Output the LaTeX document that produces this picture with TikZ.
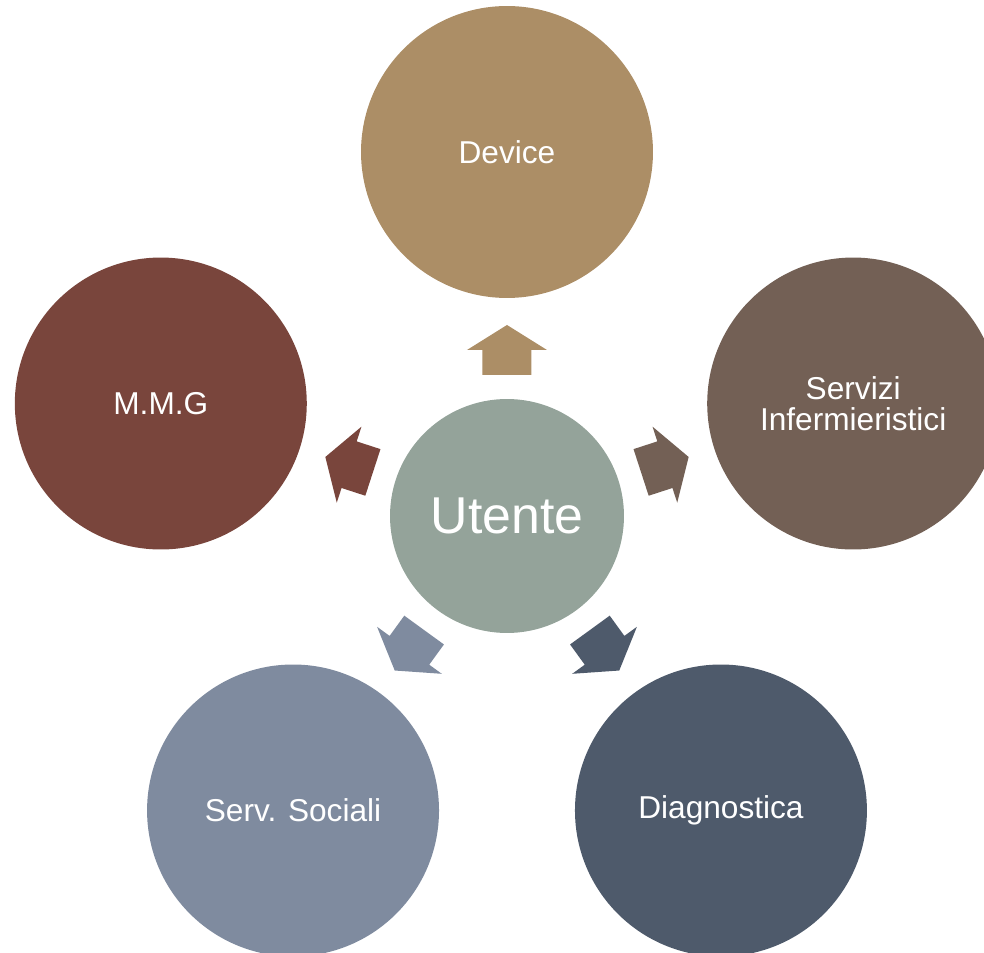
\documentclass[tikz,border=0pt]{standalone}
\usepackage{fontspec}
\setmainfont{Liberation Sans}
\usepackage{tikz}
\usetikzlibrary{calc}

\definecolor{devcol}{HTML}{AC8E66}
\definecolor{infcol}{HTML}{736055}
\definecolor{mmgcol}{HTML}{79453C}
\definecolor{soccol}{HTML}{7F8B9F}
\definecolor{diacol}{HTML}{4E5A6B}
\definecolor{utecol}{HTML}{94A39A}

\tikzset{
  ring/.style={circle, fill=#1, text=white, minimum size=5.84cm, inner sep=0pt,
    align=center, font=\fontsize{18}{17.6}\selectfont},
  hub/.style={circle, fill=utecol, text=white, minimum size=4.68cm, inner sep=0pt,
    font=\fontsize{29.5}{29.5}\selectfont}
}

\begin{document}
\begin{tikzpicture}[x=0.02cm, y=0.02cm]
            \useasboundingbox (-507, -437) rectangle (477, 516);

            \node[hub] (utente) at (0, 0) {Utente};

            \node[ring=devcol] (device) at (90:364) {Device};
            \node[ring=infcol] (infer) at (18:364) {Servizi\\Infermieristici};
            \node[ring=diacol] (diagn) at (-54:364) {Diagnostica};
            \node[ring=soccol] (social) at (-126:364) {Serv. Sociali};
            \node[ring=mmgcol] (mmg) at (162:364) {M.M.G};

            % block arrows pointing outwards
            \foreach \a/\c in {90/devcol, 18/infcol, -54/diacol, -126/soccol, 162/mmgcol}
                \fill[\c, rotate=\a] (141, -24.5) -- (166, -24.5) -- (166, -40) -- (191, 0)
                    -- (166, 40) -- (166, 24.5) -- (141, 24.5) -- cycle;
        \end{tikzpicture}
\end{document}
